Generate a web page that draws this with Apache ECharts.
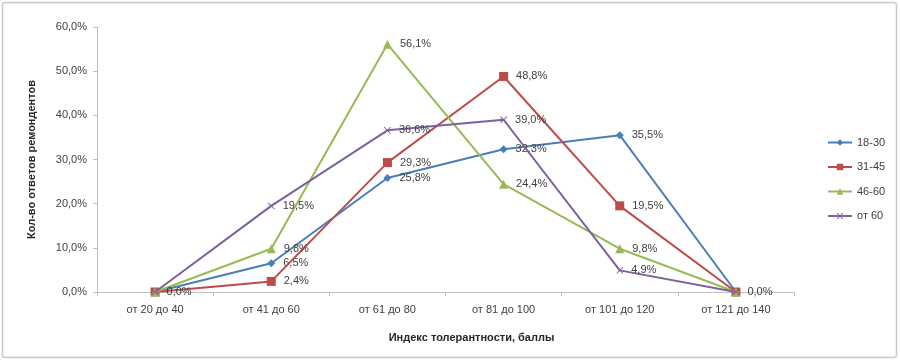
<!DOCTYPE html>
<html>
<head>
<meta charset="utf-8">
<script src="https://cdn.jsdelivr.net/npm/echarts@6/dist/echarts.min.js"></script>
<style>
  html, body { margin: 0; padding: 0; background: #fff; }
  #chart { width: 900px; height: 362px; }
</style>
</head>
<body>
<div id="chart"></div>
<script>
// данные графика
const categories = ['от 20 до 40', 'от 41 до 60', 'от 61 до 80', 'от 81 до 100', 'от 101 до 120', 'от 121 до 140'];
const seriesNames = ['18-30', '31-45', '46-60', 'от 60'];
const age18_30 = [0, 6.5, 25.8, 32.3, 35.5, 0];
const age31_45 = [0, 2.4, 29.3, 48.8, 19.5, 0];
const age46_60 = [0, 9.8, 56.1, 24.4, 9.8, 0];
const ageOver60 = [0, 19.5, 36.6, 39.0, 4.9, 0];
const yTicks = [0, 10, 20, 30, 40, 50, 60];

const font = 'Liberation Sans';
const fmt = v => v.toFixed(1).replace('.', ',') + '%';
const crossPath = 'path://M1,0L5,4L9,0L10,1L6,5L10,9L9,10L5,6L1,10L0,9L4,5L0,1Z';

const styles = [
    { color: '#4a7ebb', symbol: 'diamond', size: 8 },
    { color: '#be4b48', symbol: 'rect', size: 9 },
    { color: '#98b954', symbol: 'triangle', size: 9 },
    { color: '#7d60a0', symbol: crossPath, size: 7 }
];
const allData = [age18_30, age31_45, age46_60, ageOver60];

const chart = echarts.init(document.getElementById('chart'), null, { renderer: 'canvas' });

const option = {
    animation: false,
    textStyle: { fontFamily: font },
    graphic: [{
        type: 'rect',
        shape: { x: 2.5, y: 2.5, width: 894, height: 355, r: 3 },
        style: { fill: 'none', stroke: '#c8c8c8', lineWidth: 1.5 }
    }],
    grid: { left: 97, right: 106, top: 27, bottom: 70 },
    legend: {
        orient: 'vertical',
        left: 822,
        top: 132,
        itemWidth: 24,
        itemHeight: 8,
        itemGap: 13.5,
        textStyle: { fontSize: 11, color: '#404040', fontFamily: font },
        data: seriesNames
    },
    xAxis: {
        type: 'category',
        data: categories,
        boundaryGap: true,
        name: 'Индекс толерантности, баллы',
        nameLocation: 'middle',
        nameGap: 40,
        nameTextStyle: { fontSize: 11, fontWeight: 'bold', color: '#262626', padding: [0, 0, 0, 52] },
        axisLine: { lineStyle: { color: '#bfbfbf' } },
        axisTick: { show: true, length: 4, lineStyle: { color: '#bfbfbf' } },
        axisLabel: { fontSize: 11, color: '#404040', margin: 12 }
    },
    yAxis: {
        type: 'value',
        min: 0,
        max: 60,
        interval: 10,
        name: 'Кол-во ответов ремондентов',
        nameLocation: 'middle',
        nameGap: 60,
        nameTextStyle: { fontSize: 11, fontWeight: 'bold', color: '#262626' },
        axisLine: { show: true, lineStyle: { color: '#bfbfbf' } },
        axisTick: { show: true, length: 4, lineStyle: { color: '#bfbfbf' } },
        splitLine: { show: false },
        axisLabel: {
            fontSize: 11, color: '#404040', margin: 10,
            formatter: v => yTicks.includes(v) ? fmt(v) : ''
        }
    },
    series: seriesNames.map((name, i) => ({
        name: name,
        type: 'line',
        data: allData[i],
        symbol: styles[i].symbol,
        symbolSize: styles[i].size,
        showAllSymbol: true,
        lineStyle: { width: 2, color: styles[i].color },
        itemStyle: { color: styles[i].color },
        label: {
            show: true,
            position: 'right',
            distance: 8,
            fontSize: 11,
            color: '#404040',
            // нулевые подписи совпадают, оставляем одну
            formatter: p => (p.value === 0 && i !== seriesNames.length - 1) ? '' : fmt(p.value)
        },
        z: 2 + i
    }))
};

chart.setOption(option);
</script>
</body>
</html>
